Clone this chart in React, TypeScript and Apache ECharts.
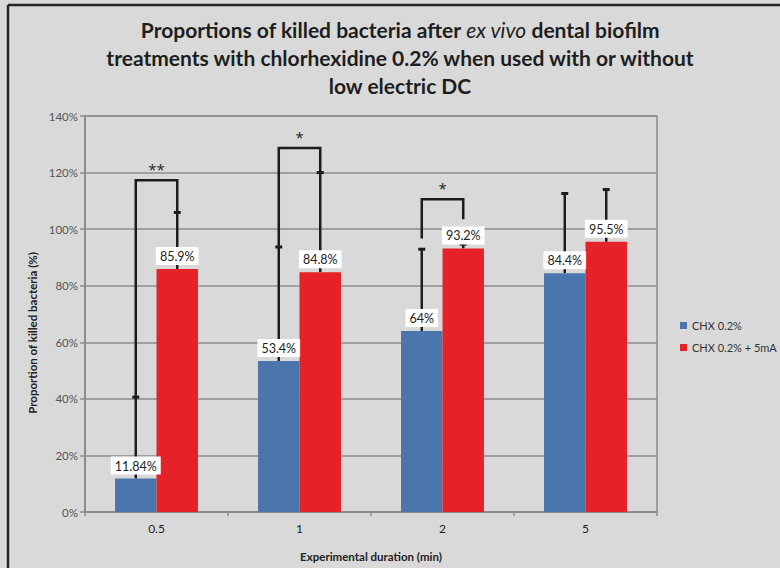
import React, { useEffect, useRef } from "react";
import * as echarts from "echarts";

// Experimental durations (min)
const categories = ["0.5", "1", "2", "5"];
// Mean proportion of killed bacteria (%)
const chxValues = [11.84, 53.4, 64, 84.4];
const chxMaValues = [85.9, 84.8, 93.2, 95.5];
// Upper ends of the error bars (%)
const chxErrTop = [40.6, 93.7, 92.9, 112.6];
const chxMaErrTop = [105.9, 120, 94.7, 114];
// Significance brackets: category, left leg bottom, right leg bottom, top, mark
const bracketCats = [0, 1, 2];
const bracketLeft = [40.6, 93.7, 96.7];
const bracketRight = [105.9, 120, 103.5];
const bracketTop = [117.3, 128.7, 110.6];
const bracketMarks = ["**", "*", "*"];
const yTicks = [0, 20, 40, 60, 80, 100, 120, 140];

const BLUE = "#4a76ad";
const RED = "#e52228";
const GRID = "#8c8c8c";
const INK = "#1c1c1c";
const FONT = "Lato";
const CAT_GAP = 0.42;

export default function App() {
  const ref = useRef<HTMLDivElement>(null);

  useEffect(() => {
    if (!ref.current) return;
    const chart = echarts.init(ref.current, undefined, { renderer: "svg" });

    const errData: number[][] = [];
    chxValues.forEach((v, i) => errData.push([i, v, chxErrTop[i], 0]));
    chxMaValues.forEach((v, i) => errData.push([i, v, chxMaErrTop[i], 1]));

    const bracketData = bracketCats.map((c, i) => [
      c,
      bracketLeft[i],
      bracketRight[i],
      bracketTop[i],
    ]);

    const barHalf = (api: any) => (api.size([1, 0])[0] * (1 - CAT_GAP)) / 2 / 2;

    const labelStyle = {
      show: true,
      position: "top" as const,
      distance: 4,
      formatter: (p: any) => `${p.value}%`,
      backgroundColor: "#ffffff",
      padding: [3, 4, 2, 4],
      color: "#222",
      fontSize: 12.5,
      fontFamily: FONT,
    };

    chart.setOption({
      animation: false,
      backgroundColor: "#d9d9d9",
      textStyle: { fontFamily: FONT },
      graphic: [
        {
          type: "line",
          shape: { x1: 8, y1: 5, x2: 790, y2: 5 },
          style: { stroke: "#262626", lineWidth: 2.5 },
        },
        {
          type: "line",
          shape: { x1: 8, y1: 5, x2: 8, y2: 580 },
          style: { stroke: "#262626", lineWidth: 2.5 },
        },
        {
          type: "text",
          x: 400,
          y: 15,
          style: {
            text:
              "{b|Proportions of killed bacteria after }{i|ex vivo}{b| dental biofilm}\n" +
              "{b|treatments with chlorhexidine 0.2% when used with or without}\n" +
              "{b|low electric DC}",
            align: "center",
            rich: {
              b: {
                fontFamily: FONT,
                fontWeight: "bold",
                fontSize: 21,
                lineHeight: 28,
                fill: "#1e1e1e",
              },
              i: {
                fontFamily: FONT,
                fontWeight: "normal",
                fontStyle: "italic",
                fontSize: 21,
                lineHeight: 28,
                fill: "#1e1e1e",
              },
            },
          },
        },
        {
          type: "text",
          x: 32,
          y: 333,
          rotation: Math.PI / 2,
          style: {
            text: "Proportion of killed bacteria (%)",
            align: "center",
            verticalAlign: "middle",
            fontFamily: FONT,
            fontWeight: "bold",
            fontSize: 11.5,
            fill: "#222",
          },
        },
      ],
      legend: {
        orient: "vertical",
        left: 675,
        top: 315,
        itemWidth: 7,
        itemHeight: 7,
        itemGap: 11,
        icon: "rect",
        textStyle: { fontSize: 11, color: "#333", fontFamily: FONT },
        data: ["CHX 0.2%", "CHX 0.2% + 5mA"],
      },
      grid: {
        left: 85,
        right: 123,
        top: 116,
        bottom: 56,
        show: true,
        borderColor: GRID,
        borderWidth: 1.5,
      },
      xAxis: {
        type: "category",
        data: categories,
        name: "Experimental duration (min)",
        nameLocation: "middle",
        nameGap: 38,
        nameTextStyle: { fontWeight: "bold", fontSize: 11.5, color: "#222", fontFamily: FONT },
        axisLine: { lineStyle: { color: GRID, width: 2 } },
        axisTick: { show: true, length: 4, lineStyle: { color: GRID, width: 1.5 } },
        axisLabel: { fontSize: 12, color: "#222", margin: 10, fontFamily: FONT },
      },
      yAxis: {
        type: "value",
        min: yTicks[0],
        max: yTicks[yTicks.length - 1],
        interval: 20,
        axisLine: { show: true, lineStyle: { color: GRID, width: 2 } },
        axisTick: { show: true, length: 5, lineStyle: { color: GRID, width: 1.5 } },
        axisLabel: {
          formatter: "{value}%",
          fontSize: 11.5,
          color: "#555",
          margin: 7,
          fontFamily: FONT,
        },
        splitLine: { lineStyle: { color: GRID, width: 1.5 } },
      },
      series: [
        {
          name: "CHX 0.2%",
          type: "bar",
          data: chxValues,
          itemStyle: { color: BLUE },
          barGap: "0%",
          barCategoryGap: `${CAT_GAP * 100}%`,
          label: labelStyle,
          z: 5,
        },
        {
          name: "CHX 0.2% + 5mA",
          type: "bar",
          data: chxMaValues,
          itemStyle: { color: RED },
          barGap: "0%",
          barCategoryGap: `${CAT_GAP * 100}%`,
          label: labelStyle,
          z: 5,
        },
        {
          name: "errors",
          type: "custom",
          data: errData,
          encode: { x: 0, y: [1, 2] },
          z: 3,
          silent: true,
          renderItem: (params: any, api: any) => {
            const cat = api.value(0);
            const lo = api.coord([cat, api.value(1)]);
            const hi = api.coord([cat, api.value(2)]);
            const off = api.value(3) === 0 ? -barHalf(api) : barHalf(api);
            const x = lo[0] + off;
            return {
              type: "group",
              children: [
                {
                  type: "line",
                  shape: { x1: x, y1: lo[1], x2: x, y2: hi[1] },
                  style: { stroke: INK, lineWidth: 2.5 },
                },
                {
                  type: "line",
                  shape: { x1: x - 3.5, y1: hi[1], x2: x + 3.5, y2: hi[1] },
                  style: { stroke: INK, lineWidth: 3 },
                },
              ],
            };
          },
        },
        {
          name: "brackets",
          type: "custom",
          data: bracketData,
          encode: { x: 0, y: [1, 2, 3] },
          z: 3,
          silent: true,
          renderItem: (params: any, api: any) => {
            const cat = api.value(0);
            const h = barHalf(api);
            const l = api.coord([cat, api.value(1)]);
            const r = api.coord([cat, api.value(2)]);
            const t = api.coord([cat, api.value(3)]);
            const xl = l[0] - h;
            const xr = l[0] + h;
            return {
              type: "group",
              children: [
                {
                  type: "polyline",
                  shape: {
                    points: [
                      [xl, l[1]],
                      [xl, t[1]],
                      [xr, t[1]],
                      [xr, r[1]],
                    ],
                  },
                  style: { stroke: INK, lineWidth: 2.5, fill: "none" },
                },
                {
                  type: "text",
                  x: (xl + xr) / 2,
                  y: t[1] - 11,
                  style: {
                    text: bracketMarks[params.dataIndex],
                    align: "center",
                    verticalAlign: "middle",
                    fontSize: 15,
                    fontFamily: "Open Sans",
                    fill: "#222",
                  },
                },
              ],
            };
          },
        },
      ],
    });

    return () => chart.dispose();
  }, []);

  return (
    <div
      ref={ref}
      style={{ position: "absolute", left: 0, top: 0, width: 780, height: 568 }}
    />
  );
}
